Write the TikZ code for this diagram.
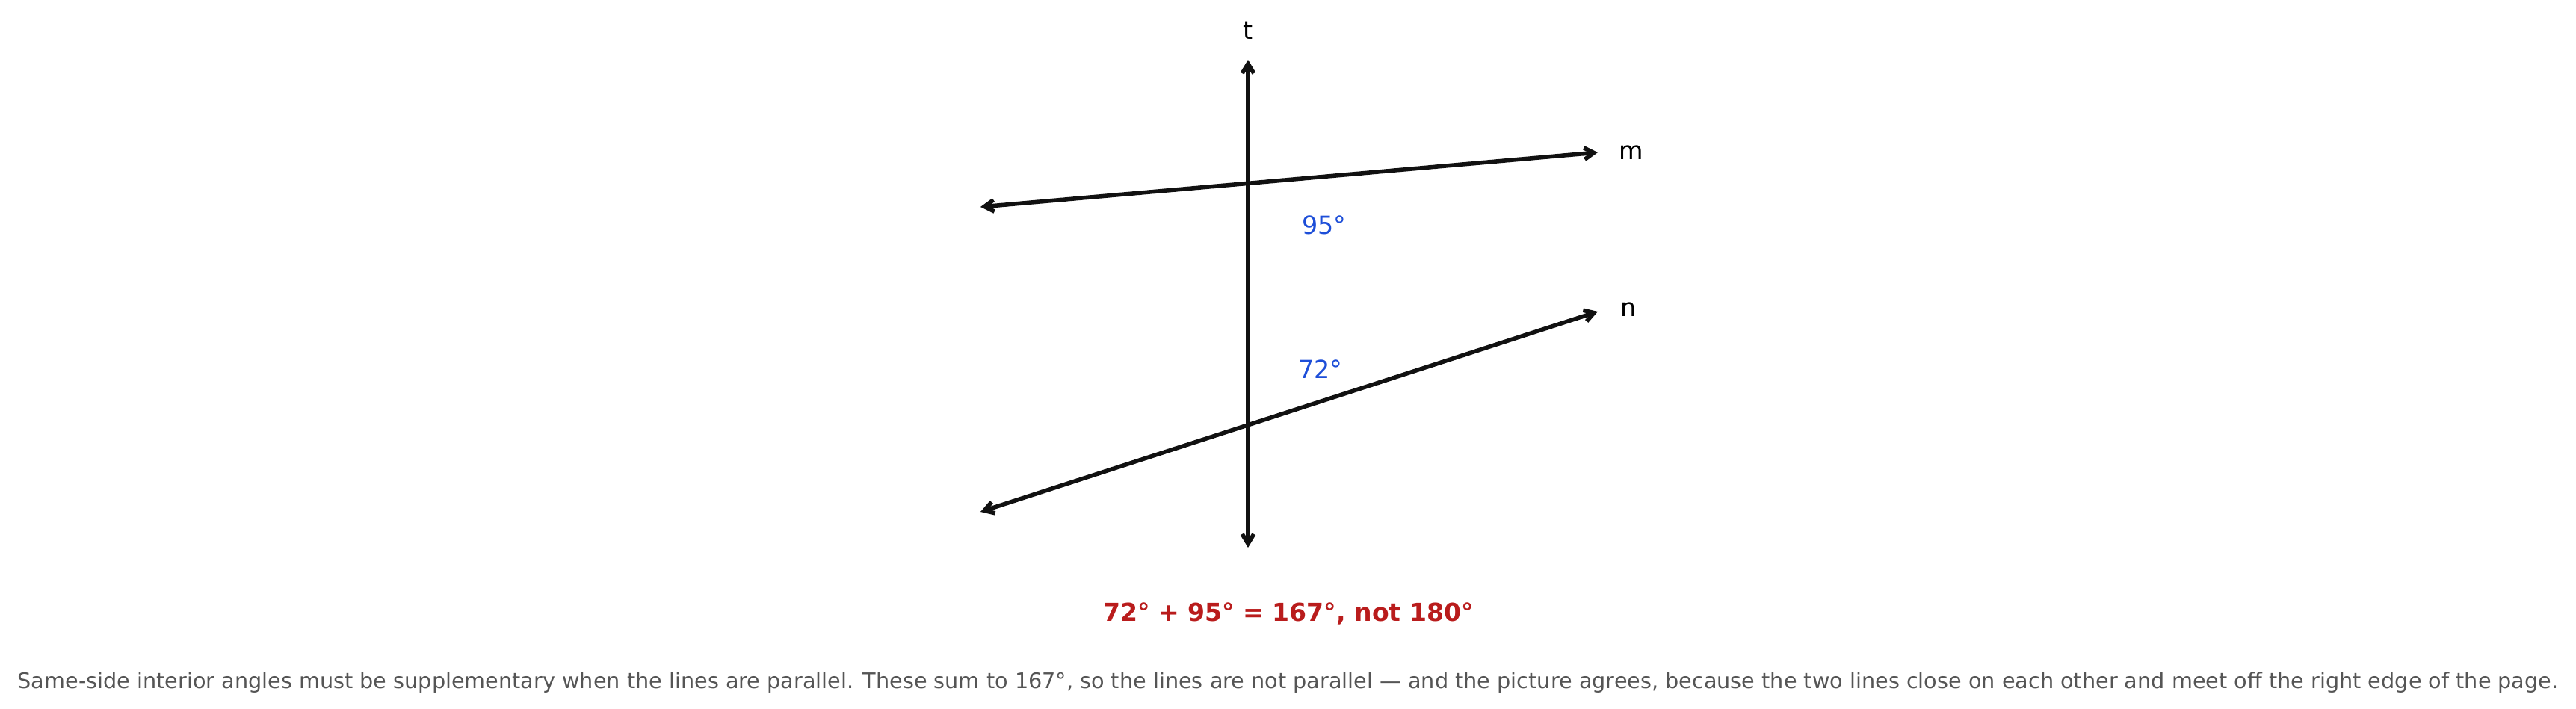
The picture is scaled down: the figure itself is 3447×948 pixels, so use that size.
\documentclass[tikz,border=0pt]{standalone}
\usepackage{fontspec}
\setmainfont{DejaVu Sans}
\usetikzlibrary{arrows.meta}
\definecolor{angleblue}{HTML}{1D4ED8}
\definecolor{sumred}{HTML}{B91C1C}
\definecolor{notegray}{HTML}{555555}
\definecolor{inkblack}{HTML}{111111}

\begin{document}
\begin{tikzpicture}[x=0.36pt, y=-0.36pt,
    >={Straight Barb[length=4.6pt,width=5.6pt]},
    ray/.style={<->, line width=2pt, draw=inkblack},
    lbl/.style={anchor=base, inner sep=0pt, font=\fontsize{12}{14}\selectfont},
    angle/.style={lbl, text=angleblue}]
    \useasboundingbox (0,0) rectangle (3447,948);

    % Transversal and the two lines
    \coordinate (ttop) at (1670,80);
    \coordinate (tbot) at (1670,733);
    \coordinate (mleft) at (1312,277);
    \coordinate (mright) at (2138,204);
    \coordinate (nleft) at (1312,685);
    \coordinate (nright) at (2138,417);

    \draw[ray] (tbot) -- (ttop);
    \draw[ray] (mleft) -- (mright);
    \draw[ray] (nleft) -- (nright);

    % Line names
    \node[lbl] (tlab) at (1670,52) {t};
    \node[lbl] (mlab) at (2183,213) {m};
    \node[lbl] (nlab) at (2179,423) {n};

    % Interior angles
    \node[angle] (a95) at (1772,313) {95°};
    \node[angle] (a72) at (1767,506) {72°};

    % Sum and note
    \node[lbl, text=sumred, font=\fontsize{11.9}{14}\selectfont\bfseries] (sum) at (1724,831) {72° + 95° = 167°, not 180°};
    \node[lbl, text=notegray, font=\fontsize{10.33}{12}\selectfont] (note) at (1723.5,921)
        {Same-side interior angles must be supplementary when the lines are parallel. These sum to 167°, so the lines are not parallel — and the picture agrees, because the two lines close on each other and meet off the right edge of the page.};
\end{tikzpicture}
\end{document}
